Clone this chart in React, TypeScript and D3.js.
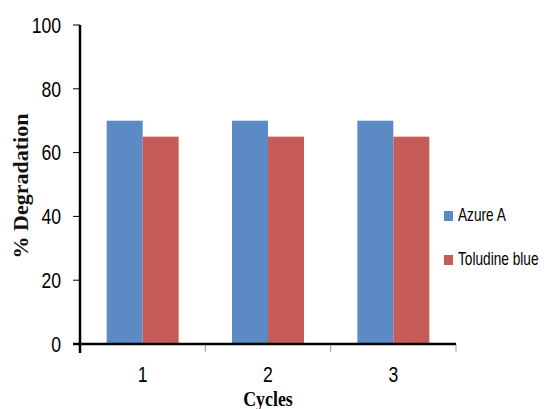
import React from "react";
import * as d3 from "d3";

const categories = ["1", "2", "3"];
const seriesNames = ["Azure A", "Toludine blue"];
const azureA = [70, 70, 70];
const toludineBlue = [65, 65, 65];
const yTicks = [0, 20, 40, 60, 80, 100];
const colors = ["#5B8AC4", "#C65B58"];

const font = "'Liberation Sans', 'DejaVu Sans', sans-serif";

function NarrowText(props: { x: number; y: number; anchor?: string; size: number; sx?: number; children: React.ReactNode }) {
  const sx = props.sx ?? 0.76;
  return (
    <text
      transform={`translate(${props.x},${props.y}) scale(${sx},1)`}
      dy="0.35em"
      textAnchor={props.anchor || "start"}
      fontFamily={font}
      fontSize={props.size}
      fill="#000"
    >
      {props.children}
    </text>
  );
}

export default function App() {
  const width = 550;
  const height = 409;
  const x0 = 80, x1 = 456, yTop = 25, yBot = 344;
  const x = d3.scaleBand<string>().domain(categories).range([x0, x1]);
  const y = d3.scaleLinear().domain([0, 100]).range([yBot, yTop]);
  const inner = d3.scaleBand<string>().domain(seriesNames).range([0, 72]);
  const series = [azureA, toludineBlue];
  return (
    <svg width={width} height={height} style={{ position: "absolute", left: 0, top: 0, background: "#fff" }}>
      {series.map((vals, si) =>
        categories.map((c, ci) => {
          const bx = (x(c) as number) + x.bandwidth() / 2 - 36 + (inner(seriesNames[si]) as number);
          return (
            <rect key={si + "-" + ci} x={bx} y={y(vals[ci])} width={inner.bandwidth()} height={yBot - y(vals[ci])} fill={colors[si]} />
          );
        })
      )}
      {yTicks.map((t) => (
        <g key={t}>
          <line x1={73} x2={x0} y1={y(t)} y2={y(t)} stroke="#000" strokeWidth={1} />
          <NarrowText x={61} y={y(t)} anchor="end" size={22} sx={0.8}>{t}</NarrowText>
        </g>
      ))}
      {[...categories.map((c) => x(c) as number), x1].map((p, i) => (
        <line key={i} x1={p} x2={p} y1={yBot} y2={352} stroke="#999" strokeWidth={1} />
      ))}
      <line x1={x0} x2={x0} y1={yTop} y2={353} stroke="#000" strokeWidth={2.5} />
      <line x1={73} x2={x1} y1={yBot} y2={yBot} stroke="#000" strokeWidth={2.5} />
      {categories.map((c) => (
        <NarrowText key={c} x={(x(c) as number) + x.bandwidth() / 2} y={374} anchor="middle" size={22} sx={0.8}>{c}</NarrowText>
      ))}
      <text transform="translate(268,406) scale(0.85,1)" textAnchor="middle" fontFamily="'Liberation Serif', serif" fontWeight="bold" fontSize={21} fill="#000">Cycles</text>
      <text transform="translate(28,186) rotate(-90)" textAnchor="middle" fontFamily="'Liberation Serif', serif" fontWeight="bold" fontSize={22} fill="#111">% Degradation</text>
      {seriesNames.map((n, i) => (
        <g key={n}>
          <rect x={444} y={211 + i * 44} width={9} height={10} fill={colors[i]} />
          <NarrowText x={458} y={215 + i * 44} size={18}>{n}</NarrowText>
        </g>
      ))}
    </svg>
  );
}
